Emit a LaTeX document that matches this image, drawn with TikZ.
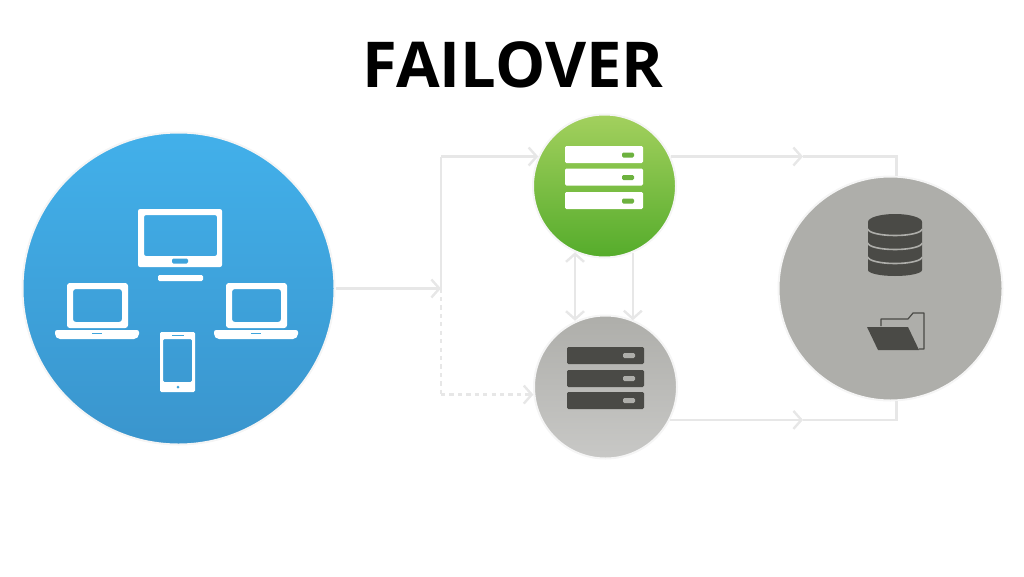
\documentclass[tikz,border=0pt]{standalone}
\usepackage{fontspec}
\setmainfont{Open Sans}
\usetikzlibrary{arrows.meta}
\definecolor{linkgray}{HTML}{E7E7E7}
\definecolor{iconblue}{HTML}{3FA4DC}
\definecolor{skytop}{HTML}{42B0EA}
\definecolor{skybot}{HTML}{3A95CD}
\definecolor{leaftop}{HTML}{A3D05E}
\definecolor{leafmid}{HTML}{6FB63A}
\definecolor{leafbot}{HTML}{55AC2B}
\definecolor{leafled}{HTML}{6DB23F}
\definecolor{darkicon}{HTML}{4A4A46}
\definecolor{stonegray}{HTML}{AEAEAA}
\definecolor{palegray}{HTML}{C8C8C6}
\tikzset{
    hub/.style={circle, draw=black!4, line width=0.5mm, inner sep=0pt},
    link/.style={draw=linkgray, line width=0.6mm},
    linkhead/.style={link, -{Straight Barb[length=2mm,width=4.5mm]}},
    whiteicon/.style={fill=white, even odd rule},
}
\begin{document}
\begin{tikzpicture}[x=0.25mm, y=-0.25mm]
    \useasboundingbox (0,0) rectangle (1024,576);
    \node[anchor=center, font=\bfseries\fontsize{45}{45}\selectfont] (title) at (513,65) {FAILOVER};

    \node[hub, minimum size=78mm, top color=skytop, bottom color=skybot] (clients) at (178.5,288.5) {};
    \node[hub, minimum size=35.75mm, top color=leaftop, middle color=leafmid, bottom color=leafbot] (master) at (604.5,186) {};
    \node[hub, minimum size=35.75mm, top color=stonegray, bottom color=palegray] (standby) at (605.5,387) {};
    \node[hub, minimum size=56mm, fill=stonegray] (storage) at (890.5,288.5) {};

    \coordinate (split) at (441,288.5);
    \coordinate (uptop) at (split |- master.156);
    \coordinate (downbot) at (split |- standby.186);
    \coordinate (topmid) at (803,0 |- master.24);
    \coordinate (topcorner) at (storage.87 |- master.24);
    \coordinate (botmid) at (803,0 |- standby.-27);
    \coordinate (botcorner) at (storage.-87 |- standby.-27);

    \draw[linkhead] (clients.east) -- (split);
    \draw[link] (split) -- (uptop);
    \draw[linkhead] (uptop) -- (master.156);
    \draw[link, dashed] (split) -- (downbot);
    \draw[linkhead, dashed] (downbot) -- (standby.186);
    \draw[linkhead, {Straight Barb[length=2mm,width=4.5mm]}-{Straight Barb[length=2mm,width=4.5mm]}] (master.-114) -- (master.-114 |- standby.114);
    \draw[linkhead] (master.-67) -- (master.-67 |- standby.67);
    \draw[linkhead] (master.24) -- (topmid);
    \draw[link] (topmid) -- (topcorner) -- (storage.87);
    \draw[linkhead] (standby.-27) -- (botmid);
    \draw[link] (botmid) -- (botcorner) -- (storage.-87);

    \fill[whiteicon, rounded corners=1.5pt] (138,209) rectangle (222,267) (144,215) rectangle (217,256);
    \fill[iconblue, rounded corners=1pt] (172,258.5) rectangle (188,263.5);
    \fill[white, rounded corners=1pt] (158,275) rectangle (203,281);
    \foreach \dx in {0,159} {
        \fill[whiteicon, rounded corners=2pt] (67+\dx,283) rectangle (128+\dx,328) (73+\dx,289) rectangle (122+\dx,322);
        \fill[white, rounded corners=1.5pt] (55+\dx,330) -- (139+\dx,330) -- (139+\dx,336) -- (136+\dx,339) -- (58+\dx,339) -- (55+\dx,336) -- cycle;
        \fill[iconblue] (92+\dx,332.5) rectangle (102+\dx,334);
    }
    \fill[whiteicon, rounded corners=1pt] (160,332) rectangle (195,392) (163,339) rectangle (192,382);
    \fill[iconblue] (178,387) circle[radius=1.5];
    \fill[iconblue] (172,335) rectangle (184,336);

    \foreach \y in {146,168.5,192} {
        \fill[white, rounded corners=1pt] (565,\y) rectangle (643,\y+17);
        \fill[leafled, rounded corners=1pt] (622,\y+6.5) rectangle (634,\y+11.5);
    }
    \foreach \y in {347,370,392} {
        \fill[darkicon, rounded corners=1pt] (567,\y) rectangle (644,\y+17);
        \fill[stonegray, rounded corners=1pt] (623,\y+6) rectangle (635,\y+11);
    }

    \fill[darkicon] (868,222) -- (868,270) arc[start angle=180, end angle=0, x radius=27, y radius=6] -- (922,222) -- cycle;
    \fill[darkicon] (895,222) circle[x radius=27, y radius=8];
    \foreach \y in {229,243,257} {
        \draw[stonegray, line width=0.4mm] (868,\y) arc[start angle=180, end angle=0, x radius=27, y radius=6.5];
    }

    \draw[darkicon, line width=0.3mm, line join=round] (881,326) -- (881,319) -- (908,319) -- (913,313) -- (924,313) -- (924,349) -- (919,349);
    \fill[darkicon] (867,327) -- (908,327) -- (919,350) -- (878,350) -- cycle;
\end{tikzpicture}
\end{document}
